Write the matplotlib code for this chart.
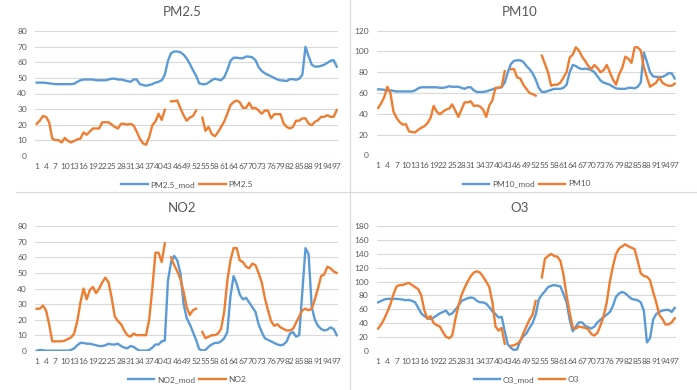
import numpy as np
import matplotlib.pyplot as plt
from matplotlib.lines import Line2D

plt.rcParams['font.family'] = ['Lato', 'DejaVu Sans']

nan = np.nan

# hours 1..97, every third one labelled
hours = list(range(1, 98))
tick_hours = list(range(1, 98, 3))
tick_labels = [str(h) for h in tick_hours]

pm25_mod = [47, 47, 47, 46.8, 46.5, 46.3, 46, 46, 46, 46,
            46, 46, 46.3, 47.5, 48.5, 49, 49, 49, 49, 48.5,
            48.5, 48.5, 48.5, 49, 49.5, 49.5, 49, 49, 48.5, 48,
            47.5, 49, 49, 46, 45.5, 45, 45.5, 46, 47, 47.5,
            48.5, 52, 61, 66, 67, 67, 66.5, 65, 62.5, 59,
            55, 51.5, 46.5, 46, 46, 47, 48.5, 49.5, 49, 48.5,
            50.5, 55, 61, 63, 63, 62.7, 62.7, 63.8, 63.7, 63.2,
            61.5, 57, 54.5, 53, 52, 51, 50, 49, 48.5, 48.3,
            48, 49.2, 49.2, 48.8, 49.5, 52, 70, 64, 58.5, 57.3,
            57.3, 57.8, 58.5, 59.7, 61, 61.5, 57.3]
pm25 = [20.5, 22.5, 25.5, 25, 21.5, 11, 10, 10, 8.5, 11.5,
        9.5, 8.5, 9.5, 10.5, 11, 15, 13.5, 15.5, 17.5, 17.5,
        17.5, 21.5, 21.5, 21.5, 20, 18.5, 17.5, 20.5, 20.5, 20,
        20.5, 19.5, 15.5, 11, 8, 7, 12, 19.5, 22, 27,
        23, 29.5, nan, 35, 35, 35.5, 30.5, 26, 22.5, 24.5,
        25.5, 29, nan, 24.5, 16, 18.5, 14, 12.5, 15, 18.5,
        22, 27, 32.5, 34.5, 35.5, 34.3, 30.8, 30.8, 34, 30.4,
        30.8, 29, 27, 29, 29, 24, 26.7, 26.7, 26.7, 20.7,
        18.5, 17.5, 18.5, 22.5, 22.5, 24, 24, 20.7, 19.6, 21.8,
        22.8, 25, 25, 26, 25, 25, 29.3]

pm10_mod = [63.5, 63.5, 63, 62.5, 62.5, 62, 61.5, 61.5, 61.5, 61.5,
            61.5, 61.5, 62.5, 64.5, 65.5, 65.5, 65.5, 65.5, 65.5, 65.5,
            65, 65, 65.5, 66.5, 66, 66, 66, 65, 64, 65.5,
            65.5, 62.5, 61, 61, 61, 61.5, 62.5, 63.5, 64.5, 65,
            65.5, 70, 80, 88, 91, 91.5, 91.5, 90, 86, 83,
            79, 73, 65, 61, 61, 62, 63, 64, 64, 64,
            65, 68, 80, 87, 86, 84, 83, 83.5, 83, 82,
            80, 76, 72, 70, 69, 68, 66, 64.5, 64, 64,
            64, 65, 65, 64.5, 66, 70, 99, 90, 80, 76,
            75.5, 75.5, 75.5, 77, 79, 79, 74]
pm10 = [45.5, 50, 56, 66, 60, 42, 36, 32, 29.5, 30,
        23, 22.5, 22, 24.5, 26.5, 28, 31, 36, 47.5, 42,
        39.5, 42, 44, 45, 49, 43, 37, 44, 51, 51,
        52, 47.5, 48, 47, 44, 37, 48, 53, 65, 65,
        66, 81, nan, 83, 83, 75, 74, 68, 64, 60,
        59, 57.5, nan, 96, 88, 80, 67, 68, 68, 70,
        75, 80, 94, 97, 104, 101, 95, 91, 86, 83,
        87, 84, 80, 82, 87, 80, 73, 68, 78, 84,
        95, 93, 89, 104, 104, 101, 85, 75, 66, 68,
        70, 75, 70, 68, 67, 67, 69]

no2_mod = [0, 0.5, 0.3, 0, 0, 0, 0, 0, 0, 0,
           0, 0.5, 1.5, 3.5, 5, 5, 4.5, 4.5, 4, 3.5,
           3, 3, 3.5, 4.5, 4, 4, 4.5, 3, 2, 1.5,
           3, 2.5, 1, 0, 0, 0, 0.5, 2, 4, 4,
           6, 6.5, 45, 57, 61, 58, 50, 30, 21, 17,
           12, 7, 1, 0, 0.5, 2.5, 4, 5, 5, 6,
           8, 12, 35, 48, 43, 36, 33, 34, 31, 28,
           25, 17, 12, 8, 7, 6, 5, 4, 3.5, 4,
           6, 11, 12, 9, 10, 38, 66, 62, 28, 20,
           16, 14, 13, 13.5, 15, 14, 10]
no2 = [27, 27, 29, 26, 17, 6, 6, 6, 6, 6.5,
       7.5, 8.5, 11, 19, 31, 40, 33, 39, 41, 37,
       40, 44, 47, 44, 34, 22, 19, 17, 13, 10,
       9, 11, 10, 10, 10, 10, 20, 40, 63, 63,
       57, 69, nan, 60, 55, 51, 46, 38, 28, 23,
       26, 27, nan, 12, 8, 9, 10, 10, 11, 14,
       25, 45, 58, 66, 66, 58, 57, 54, 53, 56,
       55, 50, 44, 34, 26, 19, 16, 17, 15, 14,
       13, 13, 14, 18, 22, 26, 27, 26, 27, 33,
       40, 48, 49, 54, 53, 51, 50]

o3_mod = [70, 72, 74, 75, 75, 75, 75, 74.5, 74, 73,
          73.5, 72, 70, 62, 54, 50, 47, 46, 48, 51,
          54, 56, 58, 52, 54, 59, 65, 72, 74, 76,
          77, 76, 72, 70, 70, 68, 63, 57, 53, 48,
          49, 28, 9, 4, 1, 2, 14, 21, 25, 33,
          40, 52, 74, 81, 86, 92, 94, 95, 94, 93,
          82, 70, 45, 28, 35, 41, 41, 36, 34, 32,
          35, 41, 45, 49, 52, 56, 65, 78, 83, 85,
          83, 79, 75, 74, 73, 70, 58, 12, 18, 45,
          53, 56, 58, 59, 59, 56, 62]
o3 = [32, 38, 46, 56, 67, 82, 93, 95, 95, 97,
      98, 95, 92, 89, 80, 58, 46, 50, 40, 37,
      35, 27, 20, 18, 22, 45, 65, 80, 91, 100,
      108, 113, 115, 113, 107, 100, 92, 70, 35, 29,
      33, 10, nan, 7, 8, 10, 14, 25, 35, 45,
      52, 72, nan, 106, 133, 137, 140, 137, 136, 130,
      110, 80, 55, 33, 32, 35, 34, 33, 31, 24,
      22, 26, 37, 50, 70, 100, 122, 140, 148, 151,
      154, 151, 149, 147, 130, 112, 108, 107, 102, 85,
      70, 52, 46, 38, 38, 41, 47]

BLUE = '#5B9BD5'
ORANGE = '#ED7D31'
TXT = '#595959'
GRID = '#D9D9D9'

W, H = 697, 390
fig = plt.figure(figsize=(W / 100, H / 100), dpi=100)

# title, model series, observed series, y max, y step, axes box (px), title centre (px)
panels = [
    ('PM2.5', pm25_mod, pm25, 80, 10, (35.4, 31.3, 338.3, 155.7), (181.7, 12.3)),
    ('PM10', pm10_mod, pm10, 120, 20, (376.8, 30.7, 676.3, 155.3), (519.7, 12.0)),
    ('NO2', no2_mod, no2, 80, 10, (35.4, 226.3, 338.3, 350.7), (181.7, 208.3)),
    ('O3', o3_mod, o3, 180, 20, (376.8, 226.3, 676.3, 350.7), (519.7, 208.0)),
]

for name, mod, obs, ymax, ystep, box, tpos in panels:
    x0, y0, x1, y1 = box
    ax = fig.add_axes([x0 / W, 1 - y1 / H, (x1 - x0) / W, (y1 - y0) / H])
    ax.plot(hours, mod, color=BLUE, lw=1.7, label=name + '_mod')
    ax.plot(hours, obs, color=ORANGE, lw=1.7, label=name)
    ax.set_xlim(0.6, 97.5)
    ax.set_ylim(0, ymax)
    ax.set_yticks(np.arange(0, ymax + 1, ystep))
    ax.set_xticks(tick_hours)
    ax.set_xticklabels(tick_labels)
    ax.grid(axis='y', color=GRID, lw=0.8)
    ax.set_axisbelow(True)
    for s in ax.spines.values():
        s.set_visible(False)
    ax.tick_params(length=0, labelsize=6, labelcolor=TXT)
    ax.tick_params(axis='y', pad=6)
    ax.tick_params(axis='x', pad=5)
    ax.legend(loc='center', bbox_to_anchor=(0.5, -0.23), ncol=2, frameon=False,
              fontsize=6, labelcolor=TXT, handlelength=3.2, handletextpad=0.3,
              columnspacing=0.5)
    fig.text(tpos[0] / W, 1 - tpos[1] / H, name, ha='center', va='center',
             fontsize=9.5, color=TXT)

# chart borders between the four panels
fig.add_artist(Line2D([16 / W, 1], [1 - 192 / H, 1 - 192 / H], color=GRID, lw=0.8))
fig.add_artist(Line2D([349.5 / W, 349.5 / W], [0, 1], color=GRID, lw=0.8))

plt.savefig('out.png', dpi=100)
